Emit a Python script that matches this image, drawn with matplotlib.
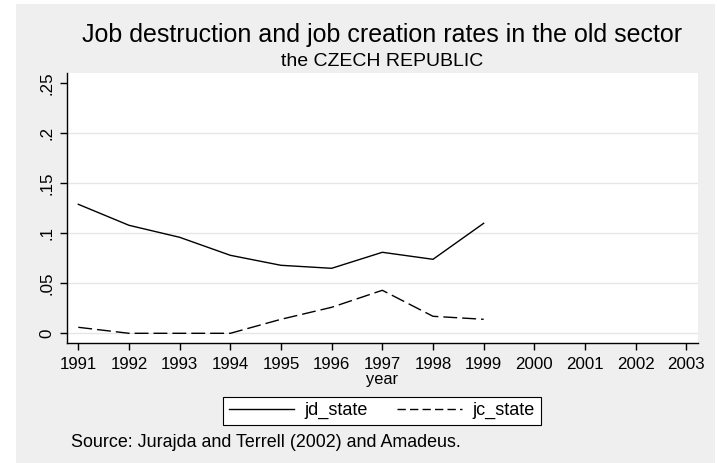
import matplotlib
matplotlib.use("Agg")
import matplotlib.pyplot as plt
from matplotlib.patches import Rectangle
from matplotlib.lines import Line2D

years = [1991, 1992, 1993, 1994, 1995, 1996, 1997, 1998, 1999]
jd_state = [0.129, 0.108, 0.096, 0.078, 0.068, 0.065, 0.081, 0.074, 0.110]
jc_state = [0.006, 0.000, 0.000, 0.000, 0.014, 0.026, 0.043, 0.017, 0.014]
xticks = list(range(1991, 2004))
yticks = [0, 0.05, 0.10, 0.15, 0.20, 0.25]
ytick_labels = ["0", ".05", ".1", ".15", ".2", ".25"]

W, H = 717, 463
plt.rcParams['font.family'] = ['Liberation Sans', 'DejaVu Sans']
fig = plt.figure(figsize=(W / 100, H / 100), dpi=100, facecolor="white")

def fx(px):
    return px / W

def fy(py):
    return 1 - py / H

bg = "#EFEFEF"
fig.patches.append(Rectangle((fx(16), 0), fx(715) - fx(16), fy(4), transform=fig.transFigure,
                             facecolor=bg, edgecolor="none", zorder=-10))

ax = fig.add_axes([fx(67), fy(343), fx(698) - fx(67), fy(73) - fy(343)])
ax.set_zorder(1)
ax.set_facecolor("white")
ax.plot(years, jd_state, color="black", lw=1.0, solid_joinstyle="miter")
ax.plot(years, jc_state, color="black", lw=1.0, dashes=(10, 3.6))

ax.set_xlim(1990.777, 2003.23)
ax.set_ylim(-0.0097, 0.2603)
ax.set_xticks(xticks)
ax.set_xticklabels([str(x) for x in xticks])
ax.set_yticks(yticks)
ax.set_yticklabels(ytick_labels, rotation=90, va="center")
for y in yticks[:-1]:
    ax.axhline(y, color="#E6E6E6", lw=1.0, zorder=0)
for s in ["top", "right"]:
    ax.spines[s].set_visible(False)
for s in ["left", "bottom"]:
    ax.spines[s].set_linewidth(1.0)
ax.tick_params(axis="both", length=5, width=1.0, labelsize=12.2, color="black")
ax.tick_params(axis="x", pad=5)
ax.tick_params(axis="y", pad=4)

fig.text(fx(382.5), fy(42), "Job destruction and job creation rates in the old sector",
         ha="center", va="baseline", fontsize=18)
fig.text(fx(382), fy(66.5), "the CZECH REPUBLIC", ha="center", va="baseline", fontsize=14)
fig.text(fx(382), fy(384), "year", ha="center", va="baseline", fontsize=11.8)
fig.text(fx(71), fy(447), "Source: Jurajda and Terrell (2002) and Amadeus.",
         ha="left", va="baseline", fontsize=12.9)

handles = [Line2D([], [], color="black", lw=1.0),
           Line2D([], [], color="black", lw=1.0, dashes=(6, 3))]
leg = fig.legend(handles, ["jd_state", "jc_state"], loc="center",
                 bbox_to_anchor=(fx(382), fy(410.7)), ncol=2, frameon=True,
                 fancybox=False, edgecolor="black", facecolor="white", framealpha=1,
                 fontsize=13, handlelength=3.6, columnspacing=1.6, handletextpad=0.6,
                 borderpad=0.3)
leg.get_frame().set_linewidth(0.8)

fig.savefig("out.png", dpi=100, facecolor="white")
